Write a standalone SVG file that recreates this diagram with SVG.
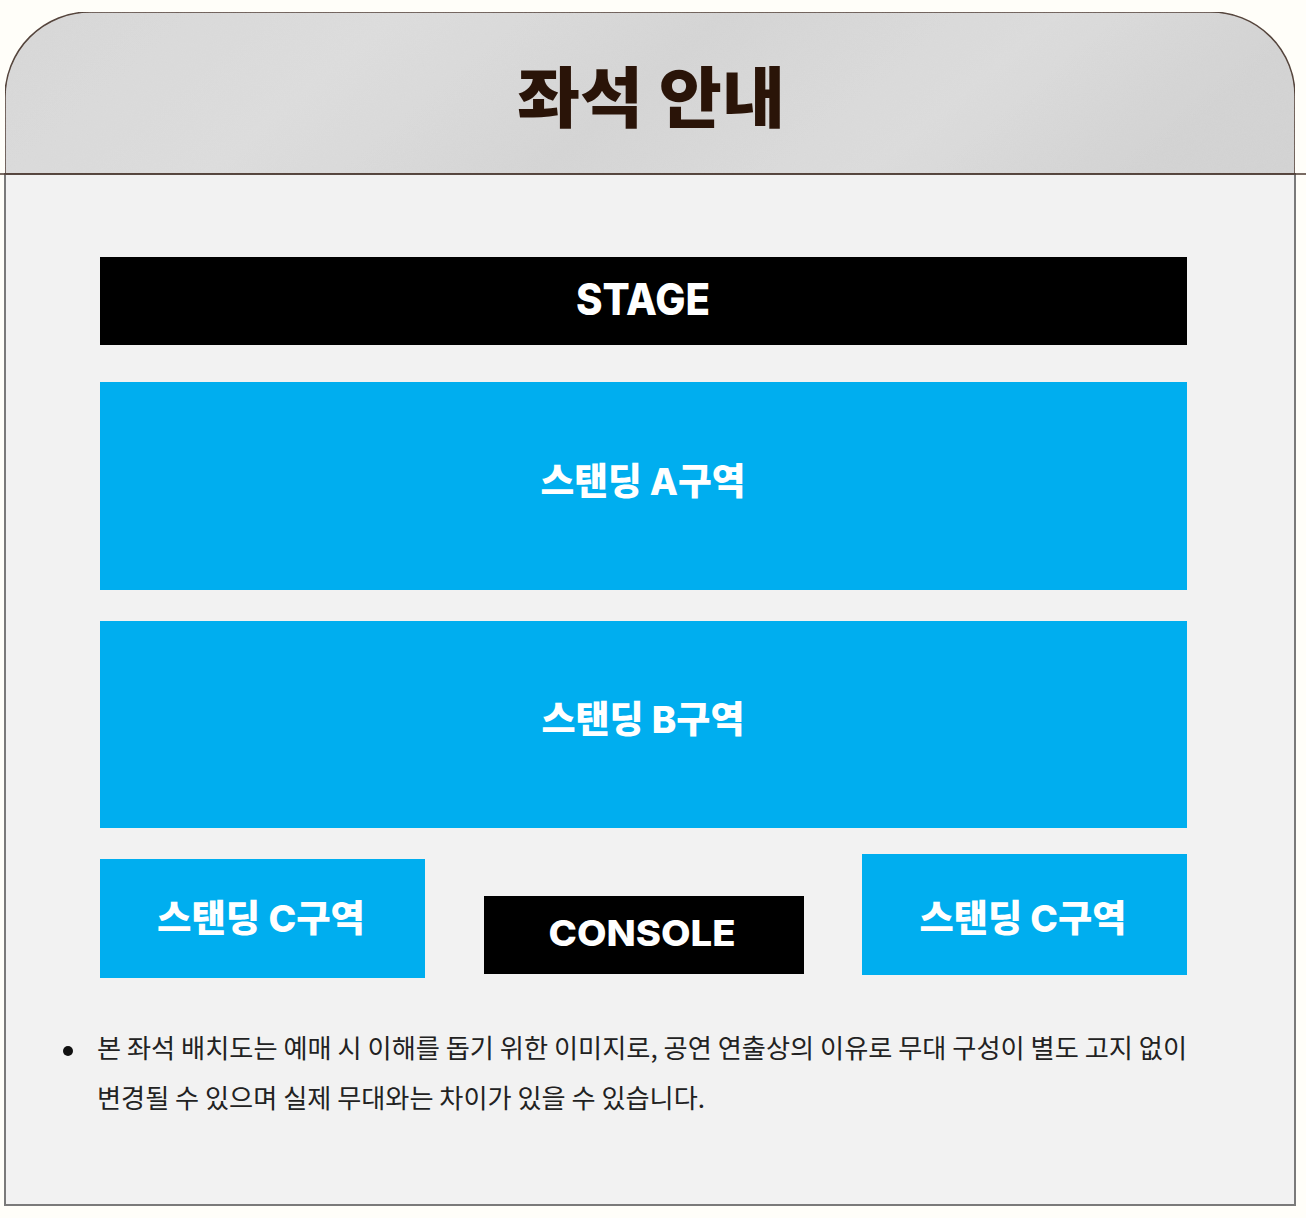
<svg xmlns="http://www.w3.org/2000/svg" width="1306" height="1218" viewBox="0 0 1306 1218">
  <defs>
    <linearGradient id="hdr" x1="0" y1="0" x2="1" y2="0.15">
      <stop offset="0" stop-color="#d8d8d8"/>
      <stop offset="0.3" stop-color="#dedede"/>
      <stop offset="0.55" stop-color="#d6d6d6"/>
      <stop offset="0.8" stop-color="#dddddd"/>
      <stop offset="1" stop-color="#d4d4d4"/>
    </linearGradient>
    <filter id="grain" x="0" y="0" width="100%" height="100%">
      <feTurbulence type="fractalNoise" baseFrequency="0.9" numOctaves="2" seed="3" result="n"/>
      <feColorMatrix in="n" type="matrix" values="0 0 0 0 0.5  0 0 0 0 0.5  0 0 0 0 0.5  0 0 0 0.08 0" result="g"/>
      <feComposite in="g" in2="SourceGraphic" operator="in" result="gi"/>
      <feMerge><feMergeNode in="SourceGraphic"/><feMergeNode in="gi"/></feMerge>
    </filter>
    <style>
      .zone { fill: #00aeef; }
      .dark { fill: #000000; }
      .lbl { font-family: Inter, "Noto Sans CJK KR", "Noto Sans", sans-serif; font-weight: 800; fill: #ffffff; text-anchor: middle; }
      .note { font-family: "Noto Sans CJK KR", "Noto Sans", sans-serif; font-size: 26px; fill: #222222; }
    </style>
  </defs>
  <rect width="1306" height="1218" fill="#fffef9"/>
  <g id="frame">
    <rect x="5" y="174" width="1290" height="1031" fill="#f2f2f2" stroke="#7a7a7a" stroke-width="2"/>
    <path d="M5,174 L5,97 A85,85 0 0 1 90,12 L1211,12 A84,84 0 0 1 1295,96 L1295,174 Z" fill="url(#hdr)" filter="url(#grain)" stroke="#4d3a30" stroke-width="1.5"/>
    <line x1="0" y1="174" x2="1306" y2="174" stroke="#4d3a30" stroke-width="1.5"/>
  </g>
  <g id="title">
    <text x="651" y="122" font-family="Noto Sans CJK KR, sans-serif" font-weight="900" font-size="66" fill="#2a1408" text-anchor="middle" textLength="268" lengthAdjust="spacingAndGlyphs">좌석 안내</text>
  </g>
  <g id="stage">
    <rect class="dark" x="100" y="257" width="1087" height="88"/>
    <text class="lbl" x="643" y="315" font-size="44" font-weight="700" textLength="134" lengthAdjust="spacingAndGlyphs">STAGE</text>
  </g>
  <g id="zone-a">
    <rect class="zone" x="100" y="382" width="1087" height="208"/>
    <text class="lbl" x="643" y="495" font-size="37" textLength="205" lengthAdjust="spacingAndGlyphs">스탠딩 A구역</text>
  </g>
  <g id="zone-b">
    <rect class="zone" x="100" y="621" width="1087" height="207"/>
    <text class="lbl" x="643" y="733" font-size="37" textLength="203" lengthAdjust="spacingAndGlyphs">스탠딩 B구역</text>
  </g>
  <g id="zone-c-left">
    <rect class="zone" x="100" y="859" width="325" height="119"/>
    <text class="lbl" x="261" y="932" font-size="37" textLength="208" lengthAdjust="spacingAndGlyphs">스탠딩 C구역</text>
  </g>
  <g id="console">
    <rect class="dark" x="484" y="896" width="320" height="78"/>
    <text class="lbl" x="642" y="946" font-size="36" font-weight="700" textLength="187" lengthAdjust="spacingAndGlyphs">CONSOLE</text>
  </g>
  <g id="zone-c-right">
    <rect class="zone" x="862" y="854" width="325" height="121"/>
    <text class="lbl" x="1023" y="932" font-size="37" textLength="207" lengthAdjust="spacingAndGlyphs">스탠딩 C구역</text>
  </g>
  <g id="note">
    <circle cx="68" cy="1051" r="5" fill="#111"/>
    <text class="note" x="97" y="1058" textLength="1090" lengthAdjust="spacingAndGlyphs">본 좌석 배치도는 예매 시 이해를 돕기 위한 이미지로, 공연 연출상의 이유로 무대 구성이 별도 고지 없이</text>
    <text class="note" x="97" y="1108" textLength="608" lengthAdjust="spacingAndGlyphs">변경될 수 있으며 실제 무대와는 차이가 있을 수 있습니다.</text>
  </g>
  <g id="connectors"/>
</svg>
